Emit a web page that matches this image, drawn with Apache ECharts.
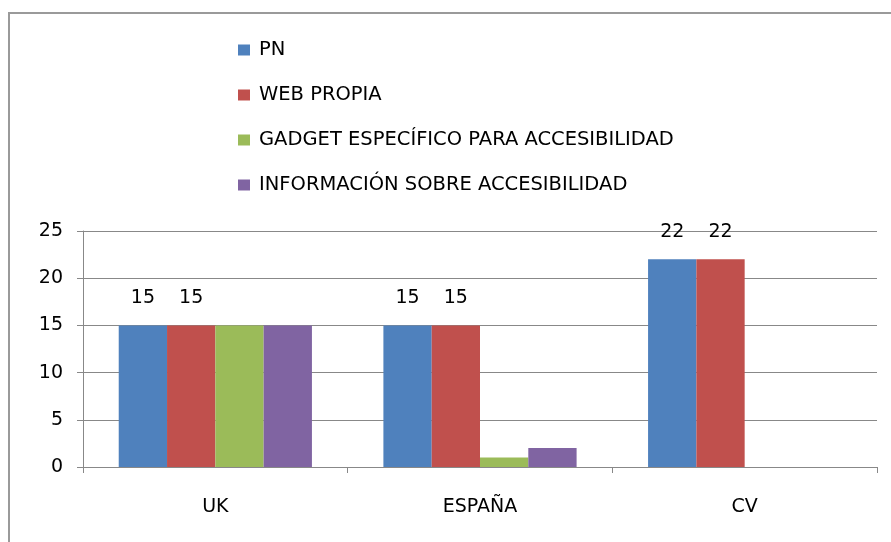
<!DOCTYPE html>
<html><head><meta charset="utf-8">
<script src="https://cdn.jsdelivr.net/npm/echarts@6/dist/echarts.min.js"></script>
<style>html,body{margin:0;padding:0;background:#fff}#c{width:891px;height:542px}</style>
</head><body><div id="c"></div>
<script>
const categories = ['UK', 'ESPAÑA', 'CV'];
const seriesNames = ['PN', 'WEB PROPIA', 'GADGET ESPECÍFICO PARA ACCESIBILIDAD', 'INFORMACIÓN SOBRE ACCESIBILIDAD'];
const pnValues = [15, 15, 22];
const webValues = [15, 15, 22];
const gadgetValues = [15, 1, 0];
const infoValues = [15, 2, 0];
const yTicks = [0, 5, 10, 15, 20, 25];
const colors = ['#4F81BD', '#C0504D', '#9BBB59', '#8064A2'];
const font = 'DejaVu Sans';

const chart = echarts.init(document.getElementById('c'));
const lbl = {show: true, position: 'top', distance: 18, color: '#000', fontSize: 19, fontFamily: font};
const mk = (i, data, showLabel) => ({
  name: seriesNames[i], type: 'bar', data: data, barGap: '0%', barCategoryGap: '27%',
  itemStyle: {color: colors[i]}, label: showLabel ? lbl : {show: false}
});
chart.setOption({
  animation: false,
  color: colors,
  graphic: [{type: 'rect', shape: {x: 9, y: 13, width: 1000, height: 700}, style: {fill: 'none', stroke: '#9a9a9a', lineWidth: 2}, silent: true}],
  legend: {
    orient: 'vertical', left: 233, top: 35, itemGap: 25, itemWidth: 12, itemHeight: 11, icon: 'rect',
    textStyle: {fontSize: 19.5, lineHeight: 20, fontFamily: font, color: '#000', padding: [0,0,0,4]},
    data: seriesNames
  },
  grid: {left: 83, right: 14, top: 231, bottom: 75},
  xAxis: {
    type: 'category', data: categories,
    axisLine: {lineStyle: {color: '#888'}},
    axisTick: {show: true, length: 6, lineStyle: {color: '#888'}},
    axisLabel: {fontSize: 19, fontFamily: font, color: '#000', margin: 31}
  },
  yAxis: {
    type: 'value', min: 0, max: 25, interval: 5,
    axisLine: {show: true, lineStyle: {color: '#888'}},
    axisTick: {show: true, length: 6, lineStyle: {color: '#888'}},
    splitLine: {lineStyle: {color: '#888'}},
    axisLabel: {fontSize: 19, fontFamily: font, color: '#000', margin: 20,
      formatter: v => yTicks.includes(v) ? String(v) : ''}
  },
  series: [mk(0, pnValues, true), mk(1, webValues, true), mk(2, gadgetValues, false), mk(3, infoValues, false)]
});
</script></body></html>
